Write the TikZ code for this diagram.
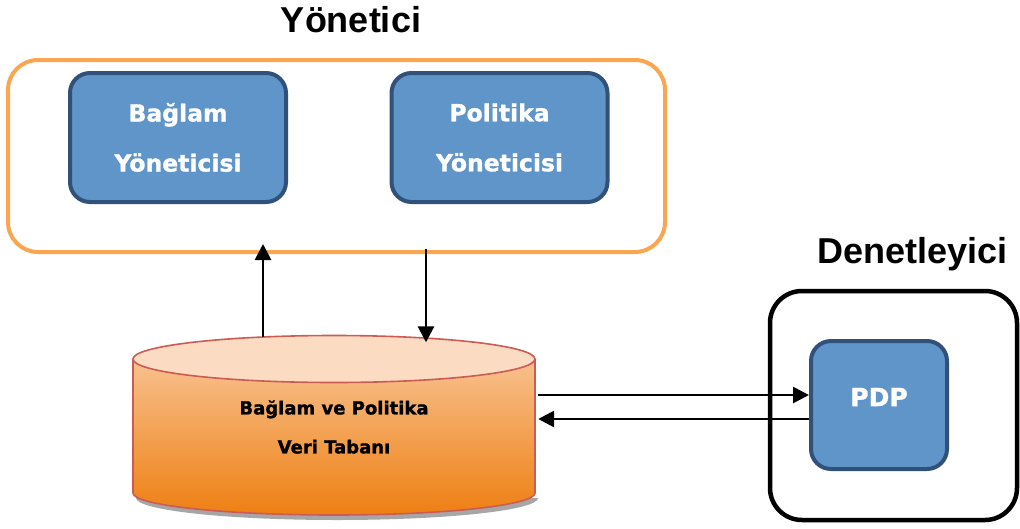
\documentclass[tikz,border=0pt]{standalone}
\usepackage{fontspec}
\usetikzlibrary{arrows.meta,calc}
\newfontfamily\headfont{Liberation Sans}
\newfontfamily\labelfont{DejaVu Sans}[BoldFeatures={FakeBold=1.2}]
\definecolor{mgrorange}{HTML}{FAA650}
\definecolor{unitfill}{HTML}{6095C9}
\definecolor{unitline}{HTML}{30527A}
\definecolor{dbtop}{HTML}{F8C18E}
\definecolor{dbbottom}{HTML}{EE7F12}
\definecolor{dbcap}{HTML}{FBDCC3}
\definecolor{dbline}{HTML}{CC5B55}
\definecolor{shadowgray}{HTML}{A6A6A6}
\begin{document}
\begin{tikzpicture}[x=1pt,y=-1pt,
  group/.style={draw, rounded corners=30pt, line width=4pt, inner sep=0pt, fill=white},
  unit/.style={draw=unitline, fill=unitfill, line width=4pt, rounded corners=20pt,
    inner sep=0pt, text=white, align=center,
    font=\labelfont\bfseries\fontsize{23.5}{50}\selectfont},
  unittext/.style={text=white, font=\labelfont\bfseries\fontsize{25}{28}\selectfont},
  arr/.style={-{Triangle[length=16pt,width=16pt]}, line width=2.8pt},
  title/.style={anchor=base, font=\headfont\bfseries\fontsize{36}{40}\selectfont}]
\useasboundingbox (0,0) rectangle (1020,528);

% titles
\node[title] (ttl1) at (351,32) {Yönetici};
\node[title] (ttl2) at (912.5,263) {Denetleyici};

% manager group and its two units
\node[group, draw=mgrorange, minimum width=657pt, minimum height=192pt] (yon) at (336.5,156) {};
\node[unit, minimum width=216pt, minimum height=129pt] (bm) at (178,137.5) {Bağlam\\Yöneticisi};
\node[unit, minimum width=216pt, minimum height=129pt] (pm) at (499.5,137.5) {Politika\\Yöneticisi};

% controller group with the PDP
\node[group, draw=black, line width=4.5pt, rounded corners=32pt, minimum width=247pt, minimum height=229pt] (den) at (893.5,405.5) {};
\node[unit, minimum width=136pt, minimum height=128pt] (pdp) at (879,405) {};
\node[unittext] (pdptxt) at (879,397) {PDP};

% database cylinder
\fill[shadowgray] (136,498) arc[start angle=180, end angle=0, x radius=201, y radius=22] -- cycle;
\shade[top color=dbtop, bottom color=dbbottom]
  (133,359) -- (133,493) arc[start angle=180, end angle=0, x radius=201, y radius=22] -- (535,359) -- cycle;
\draw[dbline, line width=1.6pt]
  (133,359) -- (133,493) arc[start angle=180, end angle=0, x radius=201, y radius=22] -- (535,359);
\filldraw[fill=dbcap, draw=dbline, line width=1.6pt] (334,359) ellipse[x radius=201, y radius=23.5];
\node[inner sep=0pt, minimum width=402pt, minimum height=179pt, align=center,
  font=\labelfont\bfseries\fontsize{18}{39}\selectfont] (db) at (334,427) {Bağlam ve Politika\\Veri Tabanı};

% connectors
\coordinate (upS) at ($(db.north)+(-71,-0.5)$);
\coordinate (upE) at ($(upS |- yon.south)+(0,-10)$);
\draw[arr] (upS) -- (upE);
\coordinate (dnS) at ($(yon.south)+(89.5,-5)$);
\coordinate (dnE) at ($(dnS |- db.north)+(0,5)$);
\draw[arr] (dnS) -- (dnE);
\coordinate (rq) at ($(db.east)+(3,-32)$);
\draw[arr] (rq) -- (rq -| pdp.west);
\coordinate (rs) at ($(db.east)+(3,-8)$);
\draw[arr] (rs -| pdp.west) -- (rs);
\end{tikzpicture}
\end{document}
